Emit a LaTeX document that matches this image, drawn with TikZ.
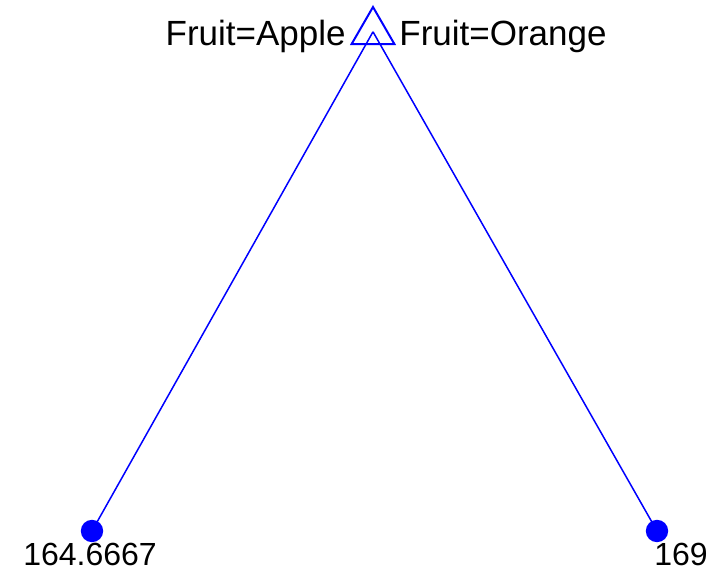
\documentclass[tikz,border=0pt]{standalone}
\usepackage{fontspec}
\setmainfont{Liberation Sans}
\usetikzlibrary{shapes.geometric}
\begin{document}
\begin{tikzpicture}[x=0.5pt, y=-0.5pt,
  split/.style={draw=blue, line width=1pt, regular polygon, regular polygon sides=3, minimum size=24.8pt, inner sep=0pt},
  leaf/.style={circle, fill=blue, minimum size=11.2pt, inner sep=0pt},
  lbl/.style={font=\fontsize{16pt}{18pt}\selectfont, inner sep=0pt},
  cond/.style={font=\fontsize{17.5pt}{20pt}\selectfont, inner sep=0pt},
  edge/.style={draw=blue, line width=0.75pt}]
\useasboundingbox (0,0) rectangle (714,572);
\node[split] at (373,31.8) (root) {};
\node[leaf] at (92,531) (apple) {};
\node[leaf] at (657,531) (orange) {};
\draw[edge] (root.center) -- (apple.center);
\draw[edge] (root.center) -- (orange.center);
\node[cond, anchor=base east] at (346,46) (applecond) {Fruit=Apple};
\node[cond, anchor=base west] at (399,46) (orangecond) {Fruit=Orange};
\node[lbl, anchor=base] at (90,566) (appleval) {164.6667};
\node[lbl, anchor=base] at (681,566) (orangeval) {169};
\end{tikzpicture}
\end{document}
